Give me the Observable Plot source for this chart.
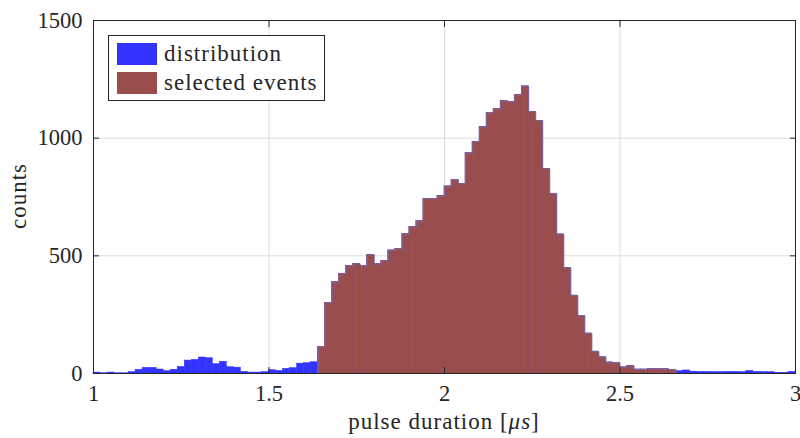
<!DOCTYPE html>
<html><head><meta charset="utf-8">
<script src="https://cdn.jsdelivr.net/npm/d3@7"></script>
<script src="https://cdn.jsdelivr.net/npm/@observablehq/plot@0.6"></script>
<style>
body{margin:0;background:#fff;}
#wrap{position:relative;width:800px;height:438px;font-family:"Liberation Serif",serif;color:#262626;}
#legend{position:absolute;left:108px;top:35px;width:217px;height:66px;border:1px solid #262626;background:#fff;box-sizing:border-box;}
.row{position:absolute;left:8px;height:22px;display:flex;align-items:center;font-size:23px;letter-spacing:1px;white-space:nowrap;}
.sw{width:40px;height:22px;margin-right:7px;}
#xlabel{position:absolute;left:0;width:888px;top:409px;text-align:center;font-size:23px;letter-spacing:1px;}
#ylabel{position:absolute;left:18.5px;top:196px;transform:translate(-50%,-50%) rotate(-90deg);font-size:23px;letter-spacing:1px;}
</style></head><body><div id="wrap"></div>
<script>
const binStart = 1.0;
const binWidth = 0.02;
const counts = [4,1,4,1,1,6,16,24,24,17,10,16,28,55,58,68,65,40,50,27,25,7,4,4,6,14,11,20,23,42,44,48,
113,300,388,424,458,466,456,504,465,479,523,530,592,622,647,742,742,754,795,822,806,936,985,1047,1106,1123,1157,1153,1184,1220,1112,1074,870,764,591,449,331,245,170,93,69,47,44,26,32,17,17,19,19,18,16,
10,13,8,7,7,6,6,7,7,6,11,7,6,6,3,3,7];
const selectedFirst = 32;
const selectedLast = 82;
const xTicks = [1, 1.5, 2, 2.5, 3];
const xTickLabels = ["1", "1.5", "2", "2.5", "3"];
const yTicks = [0, 500, 1000, 1500];
const yTickLabels = ["0", "500", "1000", "1500"];
const seriesNames = ["distribution", "selected events"];
const seriesColors = ["#3333ff", "#9a4d4d"];
const xLabel = "pulse duration";
const yLabel = "counts";

const bins = counts.map((c, i) => ({
  x1: +(binStart + i * binWidth).toFixed(4),
  x2: +(binStart + (i + 1) * binWidth).toFixed(4),
  count: c,
  selected: i >= selectedFirst && i <= selectedLast
}));
const sel = bins.filter(d => d.selected);
const outline = [{x: sel[0].x1, y: 0}, ...sel.map(d => ({x: d.x1, y: d.count})),
  {x: sel[sel.length-1].x2, y: sel[sel.length-1].count}, {x: sel[sel.length-1].x2, y: 0}];

const ink = "#262626";
const fs = 22.5;
const chart = Plot.plot({
  width: 800, height: 438,
  marginLeft: 93, marginRight: 5, marginTop: 20, marginBottom: 65,
  style: {fontFamily: "Liberation Serif, serif", fontSize: fs + "px", color: ink, background: "#fff"},
  x: {domain: [1, 3], axis: null},
  y: {domain: [0, 1500], axis: null},
  marks: [
    Plot.gridX(xTicks, {stroke: "#dcdcdc", strokeOpacity: 1}),
    Plot.gridY(yTicks, {stroke: "#dcdcdc", strokeOpacity: 1}),
    Plot.rectY(bins, {x1: "x1", x2: "x2", y: "count", fill: seriesColors[0], stroke: seriesColors[0], strokeWidth: 0.5}),
    Plot.rectY(sel, {x1: "x1", x2: "x2", y: "count", fill: seriesColors[1], stroke: seriesColors[1], strokeWidth: 0.5}),
    Plot.line(outline, {x: "x", y: "y", curve: "step-after", stroke: "#7a68a8", strokeWidth: 0.9}),
    Plot.frame({stroke: ink, strokeWidth: 1}),
    Plot.axisX(xTicks, {anchor: "bottom", tickSize: 0, tickPadding: 12, tickFormat: (d, i) => xTickLabels[i], fontSize: fs, label: null, fill: ink}),
    Plot.axisX(xTicks, {anchor: "bottom", tickSize: -6, tickFormat: () => "", label: null, stroke: ink}),
    Plot.axisX(xTicks, {anchor: "top", tickSize: -6, tickFormat: () => "", label: null, stroke: ink}),
    Plot.axisY(yTicks, {anchor: "left", tickSize: 0, tickPadding: 11, tickFormat: (d, i) => yTickLabels[i], fontSize: fs, label: null, fill: ink}),
    Plot.axisY(yTicks, {anchor: "left", tickSize: -6, tickFormat: () => "", label: null, stroke: ink}),
    Plot.axisY(yTicks, {anchor: "right", tickSize: -6, tickFormat: () => "", label: null, stroke: ink})
  ]
});
const wrap = document.getElementById("wrap");
wrap.appendChild(chart);

const legend = document.createElement("div");
legend.id = "legend";
seriesNames.forEach((n, i) => {
  const r = document.createElement("div");
  r.className = "row";
  r.style.top = (7 + i * 29) + "px";
  const s = document.createElement("div");
  s.className = "sw"; s.style.background = seriesColors[i];
  r.appendChild(s);
  r.appendChild(document.createTextNode(n));
  legend.appendChild(r);
});
wrap.appendChild(legend);

const xl = document.createElement("div");
xl.id = "xlabel";
xl.innerHTML = xLabel + " [<i>μs</i>]";
wrap.appendChild(xl);
const yl = document.createElement("div");
yl.id = "ylabel";
yl.textContent = yLabel;
wrap.appendChild(yl);
</script></body></html>
